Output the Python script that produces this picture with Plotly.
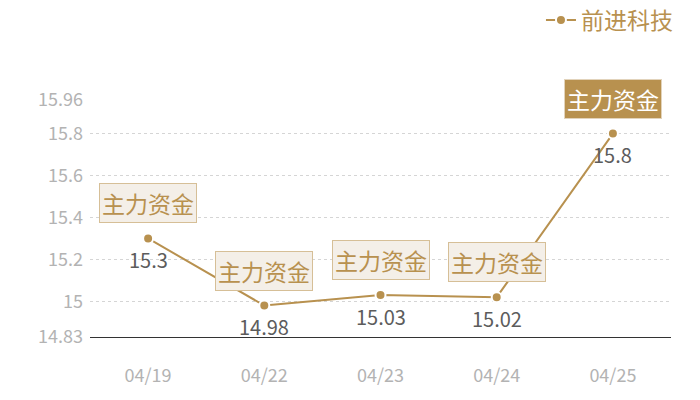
import plotly.graph_objects as go

dates = ["04/19", "04/22", "04/23", "04/24", "04/25"]
prices = [15.3, 14.98, 15.03, 15.02, 15.8]
value_labels = ["15.3", "14.98", "15.03", "15.02", "15.8"]
flag_text = "主力资金"
series_name = "前进科技"
y_ticks = [14.83, 15, 15.2, 15.4, 15.6, 15.8, 15.96]
y_tick_text = ["14.83", "15", "15.2", "15.4", "15.6", "15.8", "15.96"]

GOLD = "#b8914f"
FONT = "Noto Sans CJK SC"

fig = go.Figure()
fig.add_trace(go.Scatter(
    x=dates, y=prices, mode="lines+markers", name=series_name,
    line=dict(color=GOLD, width=2),
    marker=dict(size=10, color=GOLD, line=dict(color="white", width=2)),
    showlegend=True, hoverinfo="skip",
))

annotations = []
for i, (d, p, lab) in enumerate(zip(dates, prices, value_labels)):
    last = i == len(dates) - 1
    annotations.append(dict(
        x=d, y=p, xref="x", yref="y", text=flag_text, showarrow=False,
        yshift=35, font=dict(family=FONT, size=23, color="white" if last else GOLD),
        bgcolor=GOLD if last else "#f4efe8",
        bordercolor="#e2d3bb" if last else "#d6bf97", borderwidth=1, borderpad=2,
    ))
    annotations.append(dict(
        x=d, y=p, xref="x", yref="y", text=lab, showarrow=False,
        yshift=-21, font=dict(family=FONT, size=20, color="#5c5c5c"),
    ))

fig.update_layout(
    width=700, height=400,
    margin=dict(l=90, r=29, t=100, b=63, autoexpand=False),
    paper_bgcolor="white", plot_bgcolor="white",
    font=dict(family=FONT),
    annotations=annotations,
    legend=dict(
        x=1.012, y=0.95, xref="paper", yref="container", xanchor="right", yanchor="middle",
        font=dict(family=FONT, size=23, color=GOLD),
        bgcolor="rgba(0,0,0,0)", itemwidth=30,
    ),
    xaxis=dict(
        type="category", range=[-0.5, 4.5], showgrid=False, zeroline=False,
        showline=True, linecolor="#333333", linewidth=1, ticks="", automargin=False,
        tickfont=dict(family=FONT, size=18, color="#b3b3b3"),
        ticklabelstandoff=22,
    ),
    yaxis=dict(
        range=[14.83, 15.96], tickvals=y_ticks, ticktext=y_tick_text,
        showgrid=True, gridcolor="#d5d5d5", griddash="3px,3px", gridwidth=1,
        zeroline=False, showline=False, ticks="", automargin=False,
        tickfont=dict(family=FONT, size=18, color="#b3b3b3"),
        ticklabelstandoff=6,
    ),
)

fig.write_html("out.html", config={"displayModeBar": False},
               post_script="document.body.style.margin='0';")
